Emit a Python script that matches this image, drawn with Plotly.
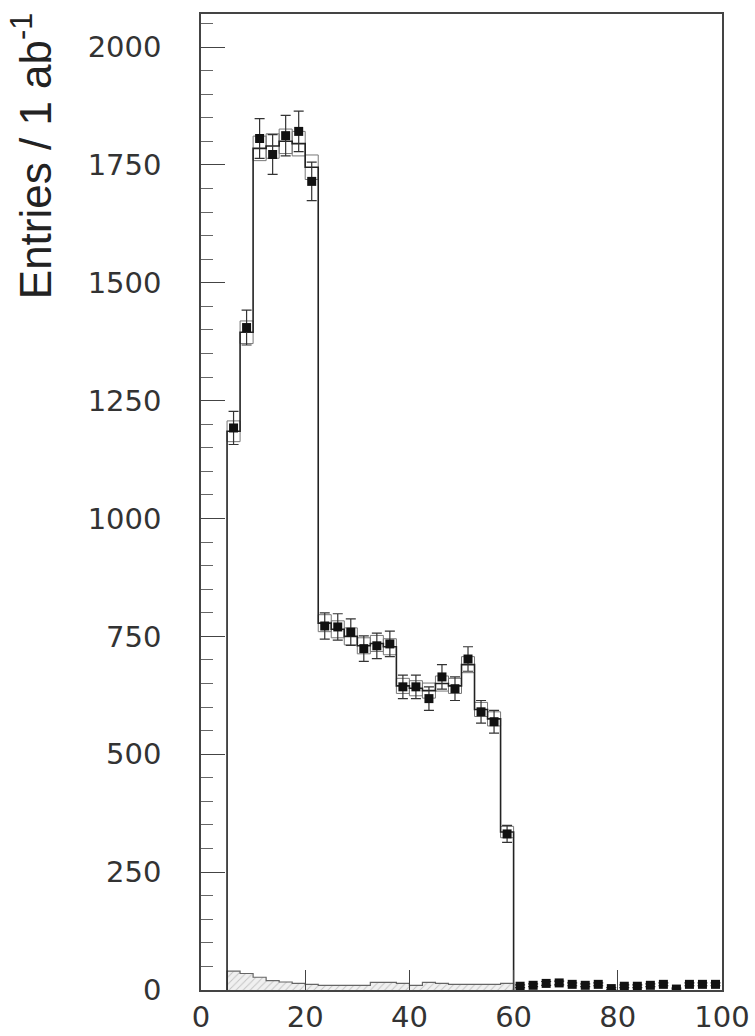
import plotly.graph_objects as go

# ---- data ----
bin_edges = [5 + 2.5 * i for i in range(39)]  # 5 .. 100
data_vals = [1192, 1405, 1806, 1772, 1812, 1821, 1715, 772, 770, 759, 724, 730,
             734, 643, 643, 618, 664, 639, 702, 590, 569, 331,
             8, 10, 14, 15, 12, 10, 12, 3, 8, 8, 10, 12, 2, 12, 12, 12]
data_errs = [35, 37, 42, 42, 43, 43, 41, 28, 28, 28, 27, 27,
             27, 25, 25, 25, 26, 25, 26, 24, 24, 18,
             3, 3, 4, 4, 3, 3, 3, 2, 3, 3, 3, 3, 2, 3, 3, 3]
mc_vals = [1185, 1395, 1785, 1790, 1800, 1795, 1745, 778, 765, 750, 730, 735,
           728, 645, 640, 635, 650, 645, 690, 595, 575, 335]
mc_errs = [22, 24, 26, 26, 26, 26, 26, 18, 18, 18, 17, 17,
           17, 16, 16, 16, 16, 16, 17, 15, 15, 12]
bkg_vals = [40, 35, 27, 20, 17, 14, 12, 10, 10, 10, 10, 16,
            16, 14, 10, 16, 14, 12, 12, 12, 12, 14]
x_ticks = [0, 20, 40, 60, 80, 100]
y_ticks = [0, 250, 500, 750, 1000, 1250, 1500, 1750, 2000]

centers = [(bin_edges[i] + bin_edges[i + 1]) / 2 for i in range(len(bin_edges) - 1)]
n_mc = len(mc_vals)
mc_edges = bin_edges[:n_mc + 1]


def step_xy(edges, vals):
    xs = [edges[0]] + list(edges[:-1]) + [edges[-1], edges[-1]]
    ys = [0] + list(vals) + [vals[-1], 0]
    return xs, ys


fig = go.Figure()

# background (hatched grey)
bx, by = step_xy(mc_edges, bkg_vals)
fig.add_trace(go.Scatter(x=bx, y=by, mode="lines", line=dict(shape="hv", color="#666", width=1.2),
                         fill="tozeroy", fillcolor="rgba(200,200,200,0.5)",
                         fillpattern=dict(shape="/", fgcolor="#999", bgcolor="rgba(230,230,230,0.6)", size=5, solidity=0.2),
                         showlegend=False, hoverinfo="skip"))

# MC error boxes
fig.add_trace(go.Bar(x=centers[:n_mc], y=[2 * e for e in mc_errs],
                     base=[v - e for v, e in zip(mc_vals, mc_errs)],
                     width=2.5, marker=dict(color="rgba(255,255,255,0)", line=dict(color="#777", width=1)),
                     showlegend=False, hoverinfo="skip"))

# MC step histogram
mx, my = step_xy(mc_edges, mc_vals)
fig.add_trace(go.Scatter(x=mx, y=my, mode="lines", line=dict(shape="hv", color="#222", width=1.6),
                         showlegend=False, hoverinfo="skip"))

# data points
fig.add_trace(go.Scatter(x=centers, y=data_vals, mode="markers",
                         marker=dict(symbol="square", size=9, color="#111"),
                         error_y=dict(type="data", array=data_errs, color="#333", thickness=1.2, width=5),
                         showlegend=False))

fig.update_layout(
    width=762, height=1046,
    margin=dict(l=201, r=33, t=12, b=43),
    paper_bgcolor="white", plot_bgcolor="white",
    barmode="overlay",
    font=dict(family="DejaVu Sans", size=29, color="#333"),
)
fig.update_xaxes(range=[0, 100], tickvals=x_ticks, ticks="inside", ticklen=20, tickcolor="#444",
                 showline=True, mirror=True, linecolor="#444", linewidth=1.5, showgrid=False,
                 zeroline=False, tickfont=dict(size=29, color="#333"))
fig.update_yaxes(range=[0, 2070], tickvals=y_ticks, ticks="inside", ticklen=24, tickcolor="#444",
                 minor=dict(dtick=50, ticks="inside", ticklen=12, tickcolor="#666"),
                 showline=True, mirror=True, linecolor="#444", linewidth=1.5, showgrid=False,
                 zeroline=False, ticklabelstandoff=32, tickfont=dict(size=29, color="#333"))

fig.add_annotation(text="Entries / 1 ab<sup>-1</sup>", xref="paper", yref="paper",
                   x=-0.325, y=0.855, xanchor="center", yanchor="middle", textangle=-90,
                   showarrow=False,
                   font=dict(family="Liberation Sans", size=44, color="#222"))

post = """
var de=document.documentElement, b=document.body;
de.style.margin='0';de.style.padding='0';de.style.overflow='hidden';
b.style.margin='0';b.style.padding='0';b.style.overflow='hidden';
"""

fig.write_html("out.html", config={"displayModeBar": False}, post_script=post)
